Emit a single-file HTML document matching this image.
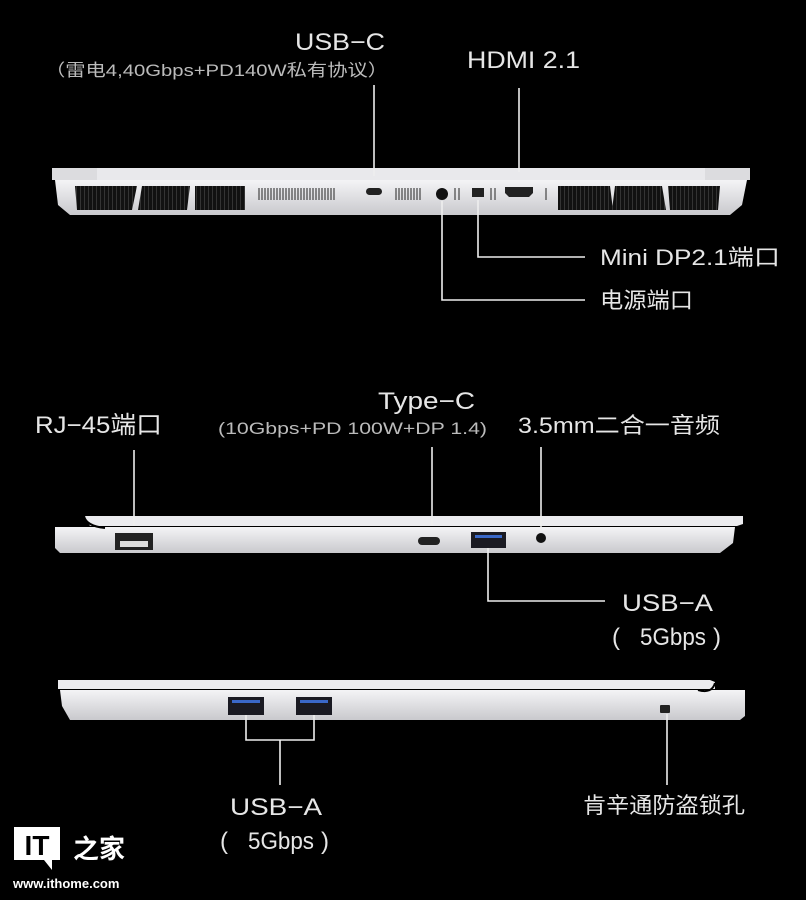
<!DOCTYPE html>
<html><head><meta charset="utf-8"><style>
html,body{margin:0;padding:0;background:#000;}
svg{display:block;}
text{font-family:"Liberation Sans","Noto Sans CJK SC",sans-serif;fill:#e6e6e6;}
</style></head><body>
<svg width="806" height="900" viewBox="0 0 806 900">
<defs>
<linearGradient id="bd" x1="0" y1="0" x2="0" y2="1"><stop offset="0" stop-color="#f4f4f6"/><stop offset="1" stop-color="#c9c9cd"/></linearGradient>
<pattern id="gr" width="4" height="4" patternUnits="userSpaceOnUse"><rect width="4" height="4" fill="#111"/><rect width="1" height="4" fill="#333"/></pattern>
</defs>
<!-- TOP LAPTOP -->
<rect x="52" y="168" width="698" height="12" rx="2" fill="#e9e9ec"/>
<rect x="52" y="168" width="45" height="12" fill="#dcdcdf"/>
<rect x="705" y="168" width="45" height="12" fill="#dcdcdf"/>
<path d="M55 180 H747 L742 205 L730 215 H70 L58 205 Z" fill="url(#bd)"/>
<g fill="url(#gr)">
<path d="M75 186 H137 L132 210 H77 Z"/><path d="M142 186 H190 L187 210 H138 Z"/><path d="M195 186 H245 V210 H195 Z"/>
<path d="M558 186 H610 L613 210 H558 Z"/><path d="M615 186 H662 L666 210 H612 Z"/><path d="M668 186 H720 L718 210 H670 Z"/>
</g>
<g stroke="#444" stroke-width="1.2">
<path d="M259 188v12M262 188v12M265 188v12M268 188v12M271 188v12M274 188v12M277 188v12M280 188v12M283 188v12M286 188v12M289 188v12M292 188v12M295 188v12M298 188v12M301 188v12M304 188v12M307 188v12M310 188v12M313 188v12M316 188v12M319 188v12M322 188v12M325 188v12M328 188v12M331 188v12M334 188v12"/>
<path d="M396 188v12M399 188v12M402 188v12M405 188v12M408 188v12M411 188v12M414 188v12M417 188v12M420 188v12"/>
<path d="M455 188v12M459 188v12M491 188v12M495 188v12M546 188v12"/>
</g>
<rect x="366" y="188" width="16" height="7" rx="3.5" fill="#222"/>
<circle cx="442" cy="194" r="6" fill="#111"/>
<rect x="472" y="188" width="12" height="9" fill="#222"/>
<path d="M505 187 H533 V193 L529 197 H509 L505 193 Z" fill="#222"/>
<g stroke="#eee" stroke-width="1.6" fill="none">
<path d="M374 85 V176"/><path d="M519 88 V172"/>
<path d="M442 201 V300 H585"/><path d="M478 200 V257 H585"/>
</g>
<text x="295" y="50" font-size="24" textLength="90" lengthAdjust="spacingAndGlyphs">USB−C</text>
<text x="45" y="76" font-size="17" style="fill:#bbb" textLength="343" lengthAdjust="spacingAndGlyphs">（雷电4,40Gbps+PD140W私有协议）</text>
<text x="467" y="68" font-size="24" textLength="113" lengthAdjust="spacingAndGlyphs">HDMI 2.1</text>
<text x="600" y="265" font-size="22" textLength="180" lengthAdjust="spacingAndGlyphs">Mini DP2.1端口</text>
<text x="600" y="308" font-size="22" textLength="93" lengthAdjust="spacingAndGlyphs">电源端口</text>
<!-- MIDDLE LAPTOP -->
<path d="M84 516 H743 V524 L737 526 H90 Z" fill="#ececef"/>
<path d="M55 527 H735 L733 543 L720 553 H60 L55 548 Z" fill="url(#bd)"/>
<path d="M84 516 Q86 526 105 528" stroke="#000" stroke-width="2" fill="none"/>
<rect x="115" y="533" width="38" height="17" fill="#222"/>
<rect x="120" y="541" width="28" height="6" fill="#ddd"/>
<rect x="418" y="537" width="22" height="8" rx="4" fill="#222"/>
<rect x="471" y="532" width="35" height="16" fill="#1a1a22"/>
<rect x="475" y="535" width="27" height="3" fill="#3a68c8"/>
<circle cx="541" cy="538" r="5" fill="#111"/>
<g stroke="#eee" stroke-width="1.6" fill="none">
<path d="M134 450 V526"/><path d="M432 447 V525"/><path d="M541 447 V531"/>
<path d="M488 548 V601 H605"/>
</g>
<text x="35" y="433" font-size="24" textLength="127" lengthAdjust="spacingAndGlyphs">RJ−45端口</text>
<text x="378" y="409" font-size="24" textLength="97" lengthAdjust="spacingAndGlyphs">Type−C</text>
<text x="218" y="434" font-size="17" style="fill:#bbb" textLength="269" lengthAdjust="spacingAndGlyphs">(10Gbps+PD 100W+DP 1.4)</text>
<text x="518" y="433" font-size="22" textLength="202" lengthAdjust="spacingAndGlyphs">3.5mm二合一音频</text>
<text x="622" y="611" font-size="24" textLength="91" lengthAdjust="spacingAndGlyphs">USB−A</text>
<text x="612" y="645" font-size="24">(</text>
<text x="640" y="645" font-size="24" textLength="66" lengthAdjust="spacingAndGlyphs">5Gbps</text>
<text x="713" y="645" font-size="24">)</text>
<!-- BOTTOM LAPTOP -->
<path d="M58 680 H710 L715 682 V689 H58 Z" fill="#ececef"/>
<path d="M60 690 H745 V716 L740 720 H70 L62 706 Z" fill="url(#bd)"/>
<path d="M698 690 Q712 694 715 683" stroke="#000" stroke-width="2" fill="none"/>
<rect x="228" y="697" width="36" height="18" fill="#1a1a22"/><rect x="232" y="700" width="28" height="3" fill="#3a68c8"/>
<rect x="296" y="697" width="36" height="18" fill="#1a1a22"/><rect x="300" y="700" width="28" height="3" fill="#3a68c8"/>
<rect x="660" y="705" width="10" height="8" rx="1" fill="#222"/>
<g stroke="#eee" stroke-width="1.6" fill="none">
<path d="M246 715 V740 H314 V715"/><path d="M280 740 V785"/><path d="M667 714 V785"/>
</g>
<text x="230" y="815" font-size="24" textLength="92" lengthAdjust="spacingAndGlyphs">USB−A</text>
<text x="220" y="849" font-size="24">(</text>
<text x="248" y="849" font-size="24" textLength="66" lengthAdjust="spacingAndGlyphs">5Gbps</text>
<text x="321" y="849" font-size="24">)</text>
<text x="583" y="813" font-size="22" textLength="162" lengthAdjust="spacingAndGlyphs">肯辛通防盗锁孔</text>
<!-- LOGO -->
<path d="M14 827 H60 V860 H52 V870 L44 860 H14 Z" fill="#fff"/>
<text x="37" y="855" font-size="28" font-weight="bold" text-anchor="middle" style="fill:#000">IT</text>
<text x="73" y="858" font-size="26" font-weight="bold" style="fill:#fff">之家</text>
<text x="13" y="888" font-size="13" font-weight="bold" style="fill:#fff">www.ithome.com</text>
</svg>
</body></html>
